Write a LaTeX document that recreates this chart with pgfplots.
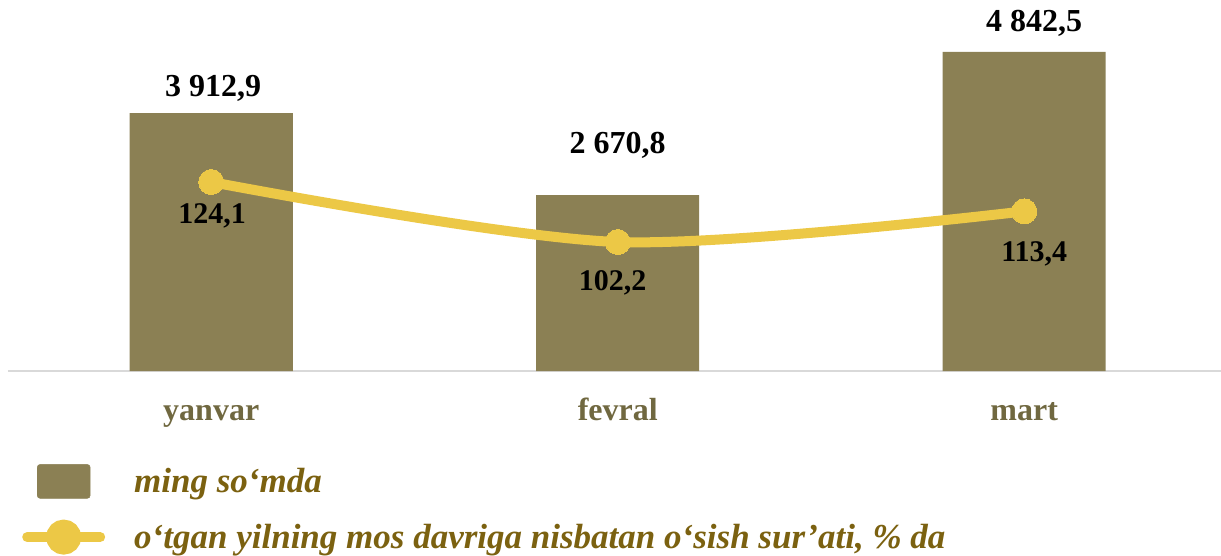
\documentclass[border=0pt]{standalone}
\usepackage{fontspec}
\setmainfont{Liberation Serif}
\usepackage{pgfplots}
\pgfplotsset{compat=1.18}
\definecolor{barc}{HTML}{8B8054}
\definecolor{linec}{HTML}{ECC846}
\definecolor{catc}{HTML}{706840}
\definecolor{legc}{HTML}{7B6110}
\definecolor{axc}{HTML}{D9D9D9}

\begin{document}
\begin{tikzpicture}[x=1pt,y=1pt]
\useasboundingbox (0,0) rectangle (1221,-556);
\begin{axis}[
  at={(8pt,-371pt)}, anchor=south west,
  scale only axis, width=1219.5pt, height=369pt,
  xmin=-0.5, xmax=2.5, ymin=0, ymax=5600,
  axis x line=bottom, axis y line=none,
  axis line style={draw=axc, line width=2pt, -},
  xtick={0,1,2}, xticklabels={yanvar,fevral,mart},
  major tick length=0pt,
  xticklabel style={anchor=base, yshift=-49pt, text=catc,
    font=\fontsize{32}{36}\selectfont\bfseries},
  ytick=\empty,
  clip=false,
]
\addplot[ybar, bar width=163pt, fill=barc, draw=none] coordinates {(0,3912.9) (1,2670.8) (2,4842.5)};
\begin{scope}[font=\fontsize{32}{36}\selectfont\bfseries]
\node at (axis cs:0,3912.9) [yshift=25pt, xshift=2pt] {3 912,9};
\node at (axis cs:1,2670.8) [yshift=50pt] {2 670,8};
\node at (axis cs:2,4842.5) [yshift=29pt, xshift=10pt] {4 842,5};
\end{scope}
\end{axis}
\begin{axis}[
  at={(8pt,-371pt)}, anchor=south west,
  scale only axis, width=1219.5pt, height=369pt,
  xmin=-0.5, xmax=2.5, ymin=55.12, ymax=189.8,
  hide axis, clip=false,
  legend style={at={(9pt,-93pt)}, anchor=north west, draw=none, fill=none,
    inner sep=0pt, row sep=21pt,
    font=\fontsize{35}{38}\selectfont\bfseries\itshape, text=legc,
    cells={anchor=west}},
  legend cell align=left,
]
\addlegendimage{legend image code/.code={
  \path (0pt,0pt) (83pt,0pt);
  \fill[barc, rounded corners=3pt] (15pt,-17pt) rectangle (68pt,17pt);}}
\addlegendentry{\hspace{22pt}ming so‘mda}
\addplot[linec, line width=10pt, smooth, mark=*, mark size=12.5pt,
  mark options={fill=linec, draw=linec, line width=0pt},
  legend image code/.code={
    \draw[linec, line width=10pt, line cap=round] (5pt,0pt) -- (78pt,0pt);
    \fill[linec] (41.5pt,0pt) circle (12.5pt);
    \path (0pt,0pt) (83pt,0pt);}]
  coordinates {(0,124.1) (1,102.2) (2,113.4)};
\addlegendentry{\hspace{22pt}o‘tgan yilning mos davriga nisbatan o‘sish sur’ati, \% da}
\begin{scope}[font=\fontsize{30}{34}\selectfont\bfseries]
\node at (axis cs:0,124.1) [yshift=-34pt, xshift=1pt] {124,1};
\node at (axis cs:1,102.2) [yshift=-41pt, xshift=-5pt] {102,2};
\node at (axis cs:2,113.4) [yshift=-43pt, xshift=10pt] {113,4};
\end{scope}
\end{axis}
\end{tikzpicture}
\end{document}
